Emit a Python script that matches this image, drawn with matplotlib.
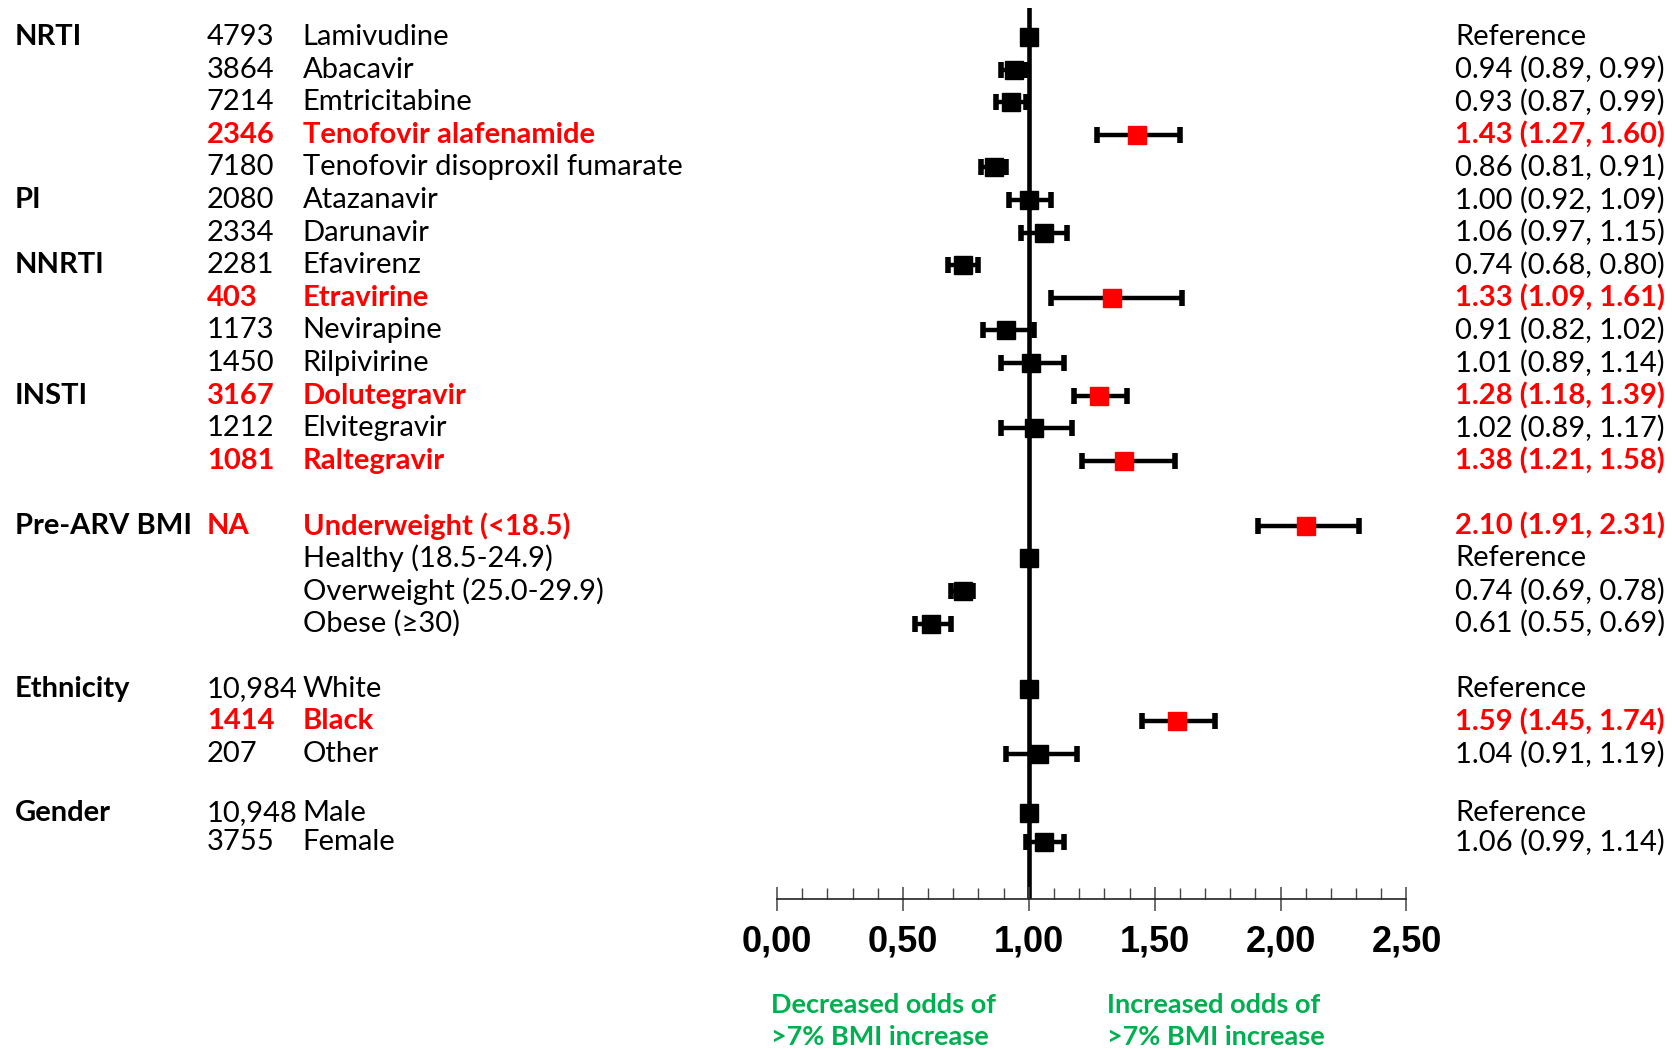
import numpy as np
import matplotlib.pyplot as plt
import matplotlib.transforms as mtransforms
from matplotlib.ticker import MultipleLocator

# rows of the forest plot, top to bottom
groups = ["NRTI", "", "", "", "", "PI", "", "NNRTI", "", "", "", "INSTI", "", "",
          "Pre-ARV BMI", "", "", "", "Ethnicity", "", "", "Gender", ""]
n_patients = ["4793", "3864", "7214", "2346", "7180", "2080", "2334", "2281", "403",
              "1173", "1450", "3167", "1212", "1081", "NA", "", "", "",
              "10,984", "1414", "207", "10,948", "3755"]
names = ["Lamivudine", "Abacavir", "Emtricitabine", "Tenofovir alafenamide",
         "Tenofovir disoproxil fumarate", "Atazanavir", "Darunavir", "Efavirenz",
         "Etravirine", "Nevirapine", "Rilpivirine", "Dolutegravir", "Elvitegravir",
         "Raltegravir", "Underweight (<18.5)", "Healthy (18.5-24.9)",
         "Overweight (25.0-29.9)", "Obese (\u226530)", "White", "Black", "Other",
         "Male", "Female"]
odds = [1.00, 0.94, 0.93, 1.43, 0.86, 1.00, 1.06, 0.74, 1.33, 0.91, 1.01, 1.28,
        1.02, 1.38, 2.10, 1.00, 0.74, 0.61, 1.00, 1.59, 1.04, 1.00, 1.06]
ci_low = [np.nan, 0.89, 0.87, 1.27, 0.81, 0.92, 0.97, 0.68, 1.09, 0.82, 0.89, 1.18,
          0.89, 1.21, 1.91, np.nan, 0.69, 0.55, np.nan, 1.45, 0.91, np.nan, 0.99]
ci_high = [np.nan, 0.99, 0.99, 1.60, 0.91, 1.09, 1.15, 0.80, 1.61, 1.02, 1.14, 1.39,
           1.17, 1.58, 2.31, np.nan, 0.78, 0.69, np.nan, 1.74, 1.19, np.nan, 1.14]
is_reference = [True, False, False, False, False, False, False, False, False, False,
                False, False, False, False, False, True, False, False, True, False,
                False, True, False]
significant = [False, False, False, True, False, False, False, False, True, False,
               False, True, False, True, True, False, False, False, False, True,
               False, False, False]
x_ticks = [0.0, 0.5, 1.0, 1.5, 2.0, 2.5]

RED = "#ff0000"
GREEN = "#00b050"
FONT = "Lato"

# vertical slot of each row (blank slots between the blocks)
extra_gap = np.zeros(len(names))
extra_gap[14:] += 1.0
extra_gap[18:] += 1.0
extra_gap[21:] += 0.8
extra_gap[22:] -= 0.1
ypos = np.arange(len(names)) + extra_gap

fig = plt.figure(figsize=(16.72, 10.49), dpi=100)
ax = fig.add_axes([0.4647, 0.143, 0.3765, 0.849])

for side in ["left", "right", "top"]:
    ax.spines[side].set_visible(False)
ax.spines["bottom"].set_linewidth(1.2)
ax.spines["bottom"].set_color("#222222")
ax.set_yticks([])

ax.set_xticks(x_ticks)
ax.set_xticklabels([f"{v:.2f}".replace(".", ",") for v in x_ticks],
                   fontsize=26, fontweight="bold", family="Liberation Sans")
ax.xaxis.set_minor_locator(MultipleLocator(0.1))
ax.tick_params(axis="x", which="major", direction="inout", length=17, width=1.1,
               color="#444444", pad=10)
ax.tick_params(axis="x", which="minor", direction="in", length=8, width=1.0,
               color="#444444")

# null line
ax.axvline(1.0, color="black", lw=3.3, zorder=1)

odds_a = np.array(odds)
lo = np.array(ci_low)
hi = np.array(ci_high)
for i in range(len(names)):
    col = RED if significant[i] else "black"
    if not is_reference[i]:
        ax.errorbar(odds_a[i], ypos[i],
                    xerr=[[odds_a[i] - lo[i]], [hi[i] - odds_a[i]]],
                    fmt="none", ecolor="black", elinewidth=3.2, capsize=6,
                    capthick=4, zorder=2)
    ax.plot(odds_a[i], ypos[i], marker="s", ms=13, color=col, mec=col, zorder=3,
            linestyle="none")

ax.set_xlim(0, 2.5)
ax.set_ylim(26.45, -0.88)

# text columns, x in figure fraction, y in data rows
trans = mtransforms.blended_transform_factory(fig.transFigure, ax.transData)
fs = 21
for i in range(len(names)):
    col = RED if significant[i] else "black"
    wt = "bold" if significant[i] else "normal"
    if groups[i]:
        fig.text(0.009, ypos[i], groups[i], transform=trans, va="center", ha="left",
                 fontsize=fs, fontweight="bold", family=FONT)
    if n_patients[i]:
        fig.text(0.1237, ypos[i], n_patients[i], transform=trans, va="center",
                 ha="left", fontsize=fs, color=col, fontweight=wt, family=FONT)
    fig.text(0.1811, ypos[i], names[i], transform=trans, va="center", ha="left",
             fontsize=fs, color=col, fontweight=wt, family=FONT)
    if is_reference[i]:
        est = "Reference"
    else:
        est = f"{odds[i]:.2f} ({ci_low[i]:.2f}, {ci_high[i]:.2f})"
    fig.text(0.8705, ypos[i], est, transform=trans, va="center", ha="left",
             fontsize=fs, color=col, fontweight=wt, family=FONT)

fig.text(0.461, 1 - 1021 / 1049, "Decreased odds of\n>7% BMI increase",
         va="center", ha="left", fontsize=19.5, fontweight="bold", color=GREEN,
         family=FONT, linespacing=1.4)
fig.text(0.662, 1 - 1021 / 1049, "Increased odds of\n>7% BMI increase",
         va="center", ha="left", fontsize=19.5, fontweight="bold", color=GREEN,
         family=FONT, linespacing=1.4)

fig.savefig("out.png", dpi=100)
